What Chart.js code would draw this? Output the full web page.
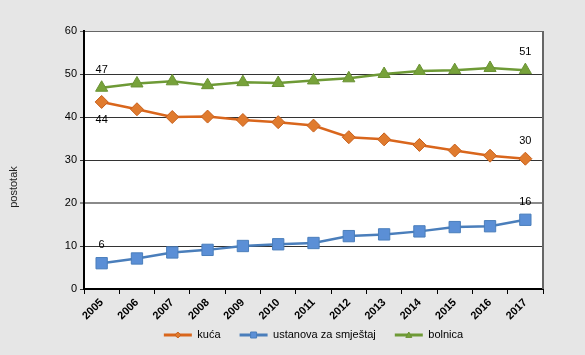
<!DOCTYPE html>
<html>
<head>
<meta charset="utf-8">
<script src="https://cdn.jsdelivr.net/npm/chart.js@4.4.1/dist/chart.umd.min.js"></script>
<style>
html,body{margin:0;padding:0;background:#e6e6e6;}
canvas{display:block;}
</style>
</head>
<body>
<canvas id="c" width="585" height="355"></canvas>
<script>
const years = ['2005','2006','2007','2008','2009','2010','2011','2012','2013','2014','2015','2016','2017'];
const kuca = [43.5, 41.8, 40.0, 40.1, 39.3, 38.8, 38.0, 35.3, 34.8, 33.5, 32.2, 31.0, 30.3];
const ustanova = [6.0, 7.1, 8.5, 9.1, 10.0, 10.4, 10.7, 12.3, 12.7, 13.4, 14.4, 14.6, 16.1];
const bolnica = [46.8, 47.8, 48.3, 47.4, 48.1, 47.9, 48.5, 49.0, 50.0, 50.7, 50.9, 51.4, 50.9];
const seriesNames = ['kuća', 'ustanova za smještaj', 'bolnica'];
const yTicks = [0, 10, 20, 30, 40, 50, 60];
const axisTitle = 'postotak';

const FONT = 'Liberation Sans, Arial, sans-serif';

const bgPlugin = {
  id: 'bg',
  beforeDraw(chart) {
    const {ctx, chartArea: a} = chart;
    ctx.save();
    ctx.fillStyle = '#e6e6e6';
    ctx.fillRect(0, 0, chart.width, chart.height);
    ctx.fillStyle = '#ffffff';
    ctx.fillRect(a.left, a.top, a.right - a.left, a.bottom - a.top);
    ctx.restore();
  },
  afterDraw(chart) {
    const {ctx, chartArea: a} = chart;
    ctx.save();
    ctx.strokeStyle = '#666666';
    ctx.lineWidth = 2;
    ctx.beginPath();
    ctx.moveTo(a.right, a.top);
    ctx.lineTo(a.right, a.bottom);
    ctx.stroke();
    ctx.fillStyle = '#222';
    ctx.font = '11px ' + FONT;
    ctx.textAlign = 'center';
    ctx.textBaseline = 'middle';
    ctx.translate(14, 187);
    ctx.rotate(-Math.PI / 2);
    ctx.fillText(axisTitle, 0, 0);
    ctx.restore();
  }
};

function drawMarker(ctx, style, x, y, r, fill, stroke) {
  ctx.save();
  ctx.fillStyle = fill;
  ctx.strokeStyle = stroke;
  ctx.lineWidth = 1;
  ctx.beginPath();
  if (style === 'rectRot') {
    ctx.moveTo(x, y - r); ctx.lineTo(x + r, y); ctx.lineTo(x, y + r); ctx.lineTo(x - r, y);
  } else if (style === 'rect') {
    ctx.rect(x - r, y - r, 2 * r, 2 * r);
  } else {
    ctx.moveTo(x, y - r); ctx.lineTo(x + r, y + r * 0.8); ctx.lineTo(x - r, y + r * 0.8);
  }
  ctx.closePath();
  ctx.fill();
  ctx.stroke();
  ctx.restore();
}

const labelPlugin = {
  id: 'endLabels',
  afterDatasetsDraw(chart) {
    const {ctx} = chart;
    ctx.save();
    ctx.fillStyle = '#000';
    ctx.font = '11px ' + FONT;
    ctx.textAlign = 'center';
    ctx.textBaseline = 'middle';
    chart.data.datasets.forEach((ds, i) => {
      const meta = chart.getDatasetMeta(i);
      const n = ds.data.length;
      [0, n - 1].forEach(j => {
        const pt = meta.data[j];
        const below = ds.labelBelowFirst && j === 0;
        const dy = below ? 18 : -18;
        ctx.fillText(String(Math.round(ds.data[j])), pt.x, pt.y + dy);
      });
    });
    ctx.restore();
  },
  afterDraw(chart) {
    const legend = chart.legend;
    if (!legend || !legend.legendHitBoxes) return;
    const boxW = legend.options.labels.boxWidth;
    legend.legendHitBoxes.forEach((hb, i) => {
      const ds = chart.data.datasets[i];
      const cx = hb.left + boxW / 2;
      const cy = hb.top + hb.height / 2;
      drawMarker(chart.ctx, ds.pointStyle, cx, cy, 3, ds.pointBackgroundColor, ds.pointBorderColor);
    });
  }
};

new Chart(document.getElementById('c'), {
  type: 'line',
  data: {
    labels: years,
    datasets: [
      {
        label: seriesNames[0], data: kuca,
        borderColor: '#D9661C', backgroundColor: '#D9661C', borderWidth: 2.5,
        pointStyle: 'rectRot', pointRadius: 6.5, pointBackgroundColor: '#E07B2E', pointBorderColor: '#C8601C', pointBorderWidth: 1,
        labelBelowFirst: true
      },
      {
        label: seriesNames[1], data: ustanova,
        borderColor: '#4A7EBB', backgroundColor: '#4A7EBB', borderWidth: 2.5,
        pointStyle: 'rect', pointRadius: 8, pointBackgroundColor: '#5B8FD6', pointBorderColor: '#4A7EBB', pointBorderWidth: 1
      },
      {
        label: seriesNames[2], data: bolnica,
        borderColor: '#6E9A36', backgroundColor: '#6E9A36', borderWidth: 2.5,
        pointStyle: 'triangle', pointRadius: 7, pointBackgroundColor: '#77A23A', pointBorderColor: '#6A9234', pointBorderWidth: 1
      }
    ]
  },
  options: {
    responsive: false,
    animation: false,
    layout: { padding: { top: 31, right: 42, left: 0, bottom: 4.5 } },
    plugins: {
      tooltip: { enabled: false },
      legend: {
        position: 'bottom',
        fullSize: false,
        labels: {
          boxWidth: 28,
          boxHeight: 3,
          padding: 19,
          color: '#000',
          font: { family: FONT, size: 11 },
          generateLabels(chart) {
            return chart.data.datasets.map((ds, i) => ({
              text: ds.label,
              fillStyle: ds.borderColor,
              strokeStyle: ds.borderColor,
              lineWidth: 0,
              hidden: false,
              datasetIndex: i,
              fontColor: '#000'
            }));
          }
        }
      }
    },
    scales: {
      x: {
        type: 'category',
        offset: true,
        afterFit(s) { s.height = 21.5; s._computeLabelArea = function () { return undefined; }; },
        grid: { display: true, drawOnChartArea: false, drawTicks: true, tickLength: 5, color: '#000', offset: true },
        border: { display: true, color: '#000', width: 2 },
        ticks: {
          color: '#000', font: { family: FONT, size: 11, weight: 'bold' },
          maxRotation: 45, minRotation: 45, padding: 2, autoSkip: false
        }
      },
      y: {
        min: yTicks[0], max: yTicks[yTicks.length - 1],
        afterFit(s) { s.width = 84; },
        afterBuildTicks(s) { s.ticks = yTicks.map(v => ({ value: v })); },
        grid: {
          drawTicks: true, tickLength: 4,
          color(c) { return c.tick && c.tick.value === 20 ? '#8a8a8a' : (c.tick && c.tick.value === 60 ? '#666' : '#333'); },
          lineWidth(c) { return c.tick && c.tick.value === 20 ? 2 : 1; }
        },
        border: { display: true, color: '#000', width: 2 },
        ticks: { color: '#000', font: { family: FONT, size: 11 }, padding: 3 }
      }
    }
  },
  plugins: [bgPlugin, labelPlugin]
});
</script>
</body>
</html>
